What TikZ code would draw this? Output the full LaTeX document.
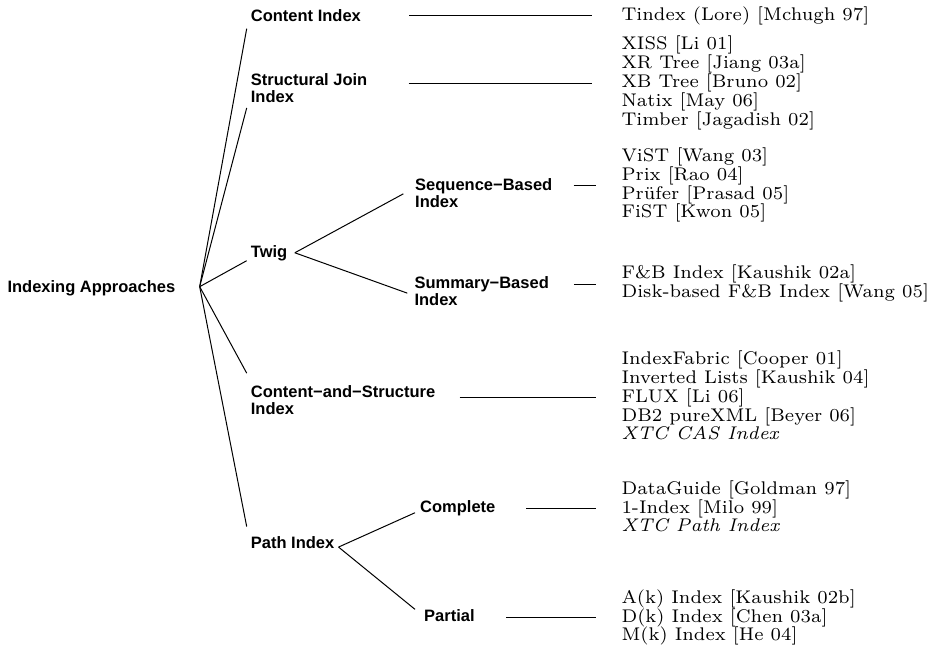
\documentclass[tikz,border=0pt]{standalone}
\usepackage{fontspec}
\newfontfamily\catfont{Liberation Sans}

% stacked lines, baseline on the first line
\newcommand\lines[1]{\begin{tabular}[t]{@{}l@{}}#1\end{tabular}}

\tikzset{
  cat/.style={font=\catfont\bfseries\fontsize{16.5}{15.5}\selectfont,
              inner sep=0pt, anchor=base west},
  refs/.style={font=\fontsize{7}{6.49}\selectfont, inner sep=0pt,
               anchor=west, scale=2.62, transform shape},
  branch/.style={line width=1pt, black},
}

\begin{document}
\begin{tikzpicture}[x=1pt,y=1pt]
\useasboundingbox (0,0) rectangle (936,-647);

% categories
\node[cat] (root) at (7.3,-292.7) {Indexing Approaches};
\node[cat] (ci)   at (250.7,-21.7) {Content Index};
\node[cat] (sj)   at (250.7,-86)   {\lines{Structural Join\\Index}};
\node[cat] (twig) at (250.7,-257)  {Twig};
\node[cat] (seq)  at (415,-190.5)  {\lines{Sequence−Based\\Index}};
\node[cat] (sum)  at (414.3,-288.5){\lines{Summary−Based\\Index}};
\node[cat] (cas)  at (250.7,-397.5){\lines{Content−and−Structure\\Index}};
\node[cat] (path) at (250.7,-548)  {Path Index};
\node[cat] (comp) at (420,-512)    {Complete};
\node[cat] (part) at (424,-621.5)  {Partial};

% literature lists
\node[refs] (r1) at (621,-16)    {\lines{Tindex (Lore) [Mchugh 97]}};
\node[refs] (r2) at (621,-83.3)  {\lines{XISS [Li 01]\\XR Tree [Jiang 03a]\\XB Tree [Bruno 02]\\Natix [May 06]\\Timber [Jagadish 02]}};
\node[refs] (r3) at (621,-185.3) {\lines{ViST [Wang 03]\\Prix [Rao 04]\\Prüfer [Prasad 05]\\FiST [Kwon 05]}};
\node[refs] (r4) at (621,-284)   {\lines{F\&B Index [Kaushik 02a]\\Disk-based F\&B Index [Wang 05]}};
\node[refs] (r5) at (621,-397.7) {\lines{IndexFabric [Cooper 01]\\Inverted Lists [Kaushik 04]\\FLUX [Li 06]\\DB2 pureXML [Beyer 06]\\\textit{XTC CAS Index}}};
\node[refs] (r6) at (621,-508.3) {\lines{DataGuide [Goldman 97]\\1-Index [Milo 99]\\\textit{XTC Path Index}}};
\node[refs] (r7) at (621,-617.7) {\lines{A(k) Index [Kaushik 02b]\\D(k) Index [Chen 03a]\\M(k) Index [He 04]}};

% fork points
\coordinate (rfork) at ([xshift=24.2pt,yshift=1.8pt]root.east);
\coordinate (tfork) at ([xshift=7.4pt]twig.east);
\coordinate (pfork) at ([xshift=4pt,yshift=1.3pt]path.south east);

% tree branches
\draw[branch] (rfork) -- ([shift={(-4pt,-6.6pt)}]ci.south west);
\draw[branch] (rfork) -- ([shift={(-4pt,-0.5pt)}]sj.south west);
\draw[branch] (rfork) -- ([xshift=-4pt]twig.south west);
\draw[branch] (rfork) -- ([shift={(-4pt,12.2pt)}]cas.north west);
\draw[branch] (rfork) -- ([shift={(-4pt,9.3pt)}]path.north west);
\draw[branch] (tfork) -- ([shift={(-11.7pt,1.3pt)}]seq.west);
\draw[branch] (tfork) -- ([xshift=-7pt]sum.west);
\draw[branch] (pfork) -- ([shift={(-5pt,-5pt)}]comp.west);
\draw[branch] (pfork) -- ([xshift=-9pt]part.north west);

% leaders to the lists
\draw[branch, shorten <=48pt,   shorten >=29pt] (ci.east |- r1.west)   -- (r1.west);
\draw[branch, shorten <=41.2pt, shorten >=29pt] (sj.east |- r2.west)   -- (r2.west);
\draw[branch, shorten <=21.2pt, shorten >=25pt] (seq.east |- r3.west)  -- (r3.west);
\draw[branch, shorten <=24.7pt, shorten >=25pt] (sum.east |- r4.west)  -- (r4.west);
\draw[branch, shorten <=24.3pt, shorten >=25pt] (cas.east |- r5.west)  -- (r5.west);
\draw[branch, shorten <=30.8pt, shorten >=25pt] (comp.east |- r6.west) -- (r6.west);
\draw[branch, shorten <=31.6pt, shorten >=25pt] (part.east |- r7.west) -- (r7.west);
\end{tikzpicture}
\end{document}
